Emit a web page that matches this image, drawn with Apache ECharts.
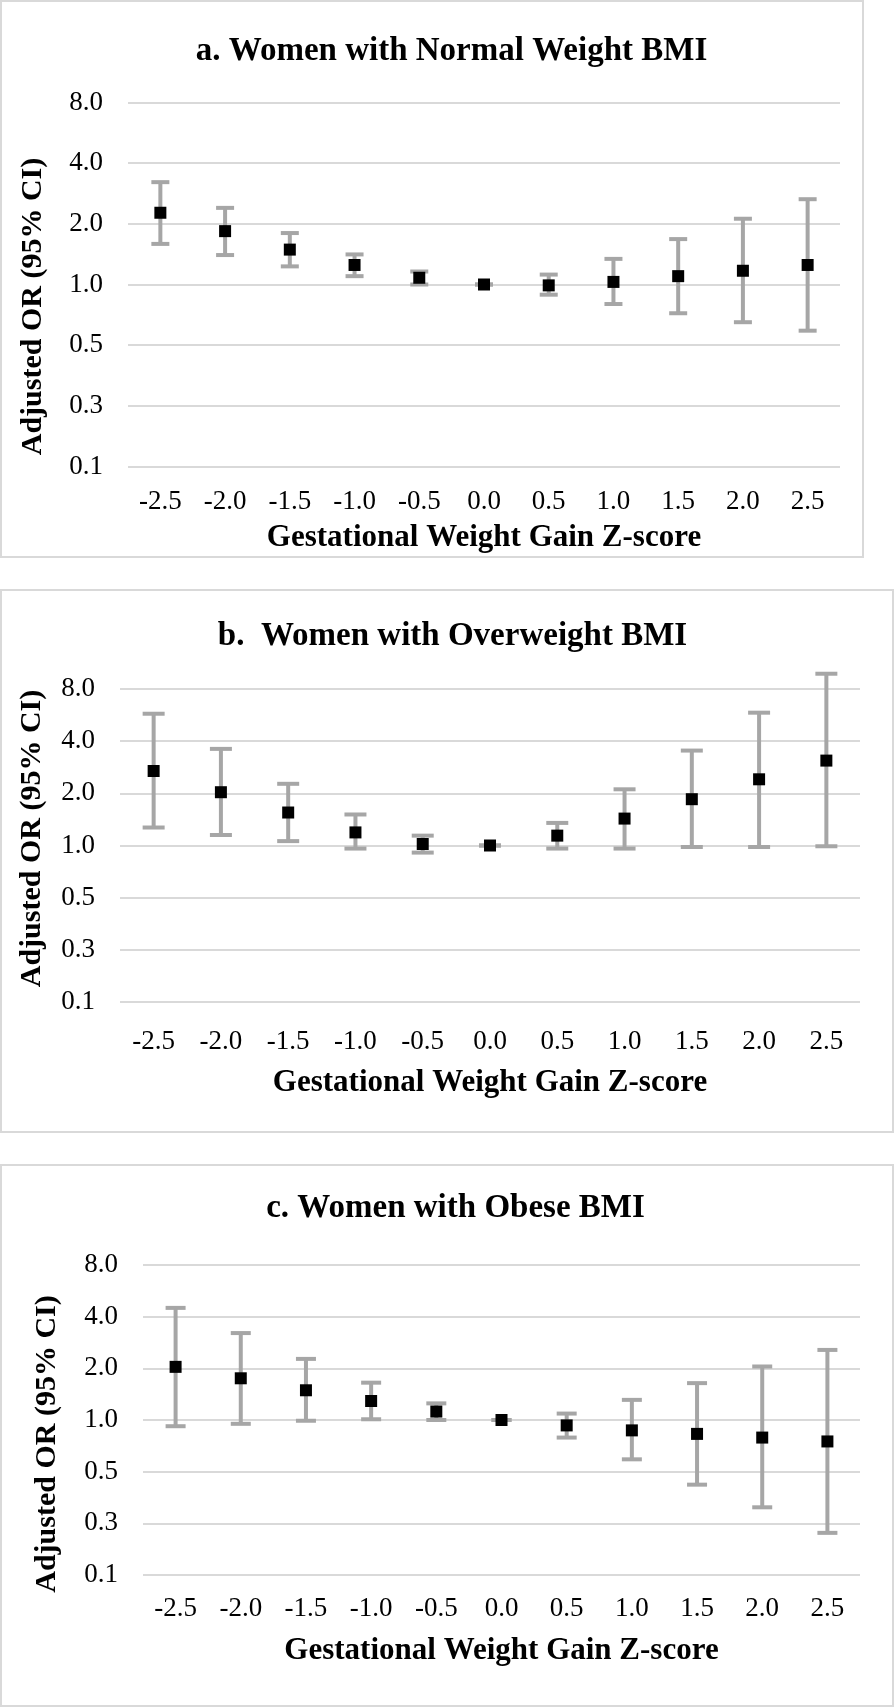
<!DOCTYPE html>
<html><head><meta charset="utf-8">
<script src="https://cdn.jsdelivr.net/npm/echarts@6/dist/echarts.min.js"></script>
<style>html,body{margin:0;padding:0;background:#fff;}#c{width:896px;height:1708px;}</style>
</head><body><div id="c"></div>
<script>
// ---- data ----
const xLabels = ['-2.5','-2.0','-1.5','-1.0','-0.5','0.0','0.5','1.0','1.5','2.0','2.5'];
const yTickValues = [0.125, 0.25, 0.5, 1, 2, 4, 8];
const yTickLabels = ['0.1','0.3','0.5','1.0','2.0','4.0','8.0'];
const panelTitles = ['a. Women with Normal Weight BMI', 'b.  Women with Overweight BMI', 'c. Women with Obese BMI'];
const xAxisTitle = 'Gestational Weight Gain Z-score';
const yAxisTitle = 'Adjusted OR (95% CI)';

const normalOR   = [2.27, 1.84, 1.49, 1.25, 1.08, 1.00, 0.99, 1.03, 1.10, 1.17, 1.25];
const normalLow  = [1.59, 1.40, 1.23, 1.10, 1.00, 1.00, 0.89, 0.80, 0.72, 0.65, 0.59];
const normalHigh = [3.22, 2.40, 1.80, 1.41, 1.16, 1.00, 1.12, 1.34, 1.68, 2.12, 2.65];

const overOR   = [2.69, 2.03, 1.55, 1.19, 1.02, 1.00, 1.14, 1.43, 1.85, 2.41, 3.09];
const overLow  = [1.27, 1.15, 1.06, 0.96, 0.91, 1.00, 0.96, 0.96, 0.98, 0.98, 0.99];
const overHigh = [5.76, 3.61, 2.27, 1.51, 1.14, 1.00, 1.35, 2.11, 3.53, 5.84, 9.80];

const obeseOR   = [2.04, 1.75, 1.49, 1.29, 1.12, 1.00, 0.93, 0.87, 0.83, 0.79, 0.75];
const obeseLow  = [0.92, 0.95, 0.99, 1.01, 1.00, 1.00, 0.79, 0.59, 0.42, 0.31, 0.22];
const obeseHigh = [4.50, 3.21, 2.27, 1.65, 1.25, 1.00, 1.09, 1.31, 1.64, 2.05, 2.56];

const panels = [
  {or: normalOR, low: normalLow, high: normalHigh},
  {or: overOR, low: overLow, high: overHigh},
  {or: obeseOR, low: obeseLow, high: obeseHigh}
];

// ---- layout / style ----
const layouts = [
  {box:[1,1,862,556], grid:{left:128, top:102.5, width:712, height:364}, titleX:451.5, titleY:34.5, cap:18, labelMargin:21.5, xNameGap:55.5, yNameGap:80, yNamePad:[0,44,0,0]},
  {box:[1,590,892,542], grid:{left:120, top:689, width:740, height:313}, titleX:452.5, titleY:619.5, cap:22, labelMargin:26.5, xNameGap:65.5, yNameGap:73, yNamePad:[0,0,0,14]},
  {box:[1,1165,892,541], grid:{left:143, top:1265, width:717, height:310}, titleX:455.5, titleY:1191.5, cap:20, labelMargin:20.5, xNameGap:60.5, yNameGap:81, yNamePad:[0,48,0,0]}
];
const FONT = 'Liberation Serif, Times New Roman, serif';
const BAR = '#A6A6A6';
const GRIDC = '#D9D9D9';

function yFmt(v) {
  for (let i = 0; i < yTickValues.length; i++) {
    if (Math.abs(Math.log2(v) - Math.log2(yTickValues[i])) < 1e-6) return yTickLabels[i];
  }
  return '';
}

const option = {
  backgroundColor: '#fff',
  animation: false,
  title: [], grid: [], xAxis: [], yAxis: [], series: [],
  graphic: []
};

layouts.forEach((L, k) => {
  option.graphic.push({type:'rect', shape:{x:L.box[0], y:L.box[1], width:L.box[2], height:L.box[3]},
    style:{fill:'none', stroke:GRIDC, lineWidth:2}, z:-10, silent:true});
  option.title.push({text: panelTitles[k], left: L.titleX, top: L.titleY, textAlign:'center', padding:0,
    textStyle:{fontFamily:FONT, fontWeight:'bold', fontSize:33, color:'#000'}});
  option.grid.push({left:L.grid.left, top:L.grid.top, width:L.grid.width, height:L.grid.height, containLabel:false});
  option.xAxis.push({type:'category', gridIndex:k, data:xLabels, boundaryGap:true,
    axisLine:{show:false}, axisTick:{show:false}, splitLine:{show:false},
    axisLabel:{fontFamily:FONT, fontSize:27, color:'#000', margin:L.labelMargin, interval:0},
    name:xAxisTitle, nameLocation:'middle', nameGap:L.xNameGap,
    nameTextStyle:{fontFamily:FONT, fontWeight:'bold', fontSize:31, color:'#000'}});
  option.yAxis.push({type:'log', logBase:2, gridIndex:k, min:0.125, max:8,
    axisLine:{show:false}, axisTick:{show:false},
    splitLine:{show:true, lineStyle:{color:GRIDC, width:2}},
    axisLabel:{fontFamily:FONT, fontSize:27, color:'#000', margin:25, formatter:yFmt},
    name:yAxisTitle, nameLocation:'middle', nameGap:L.yNameGap,
    nameTextStyle:{fontFamily:FONT, fontWeight:'bold', fontSize:30, color:'#000', padding:L.yNamePad}});
  const P = panels[k];
  const capW = L.cap;
  option.series.push({
    type:'custom', xAxisIndex:k, yAxisIndex:k, clip:false, z:2,
    encode:{x:0, y:[1,2]},
    data: xLabels.map((_, i) => [i, P.low[i], P.high[i]]),
    renderItem: function (params, api) {
      const x = api.value(0);
      const pl = api.coord([x, api.value(1)]);
      const ph = api.coord([x, api.value(2)]);
      const h = capW / 2;
      const st = {stroke:BAR, lineWidth:4, lineCap:'butt'};
      return {type:'group', children:[
        {type:'line', shape:{x1:pl[0], y1:pl[1], x2:ph[0], y2:ph[1]}, style:st},
        {type:'line', shape:{x1:pl[0]-h, y1:pl[1], x2:pl[0]+h, y2:pl[1]}, style:st},
        {type:'line', shape:{x1:ph[0]-h, y1:ph[1], x2:ph[0]+h, y2:ph[1]}, style:st}
      ]};
    }
  });
  option.series.push({
    type:'scatter', xAxisIndex:k, yAxisIndex:k, z:5, symbol:'rect', symbolSize:12,
    itemStyle:{color:'#000', opacity:1}, data: P.or.slice()
  });
});

const chart = echarts.init(document.getElementById('c'), null, {renderer:'canvas'});
chart.setOption(option);
</script>
</body></html>
